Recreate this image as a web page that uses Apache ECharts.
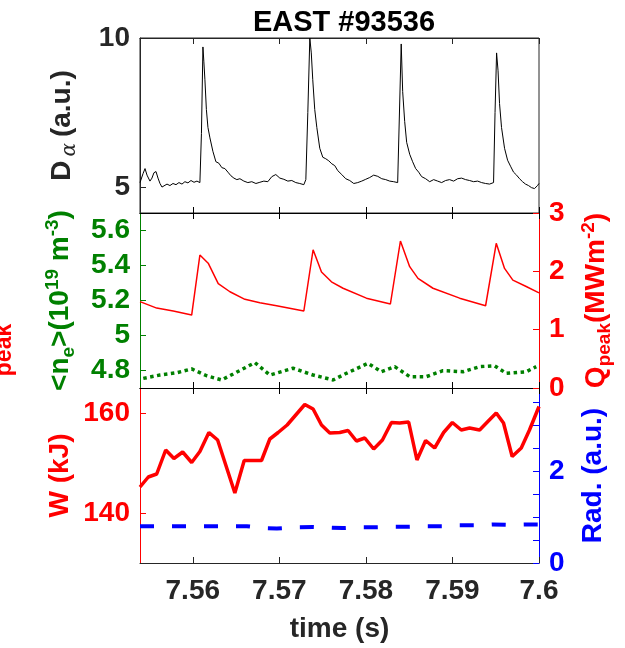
<!DOCTYPE html>
<html><head><meta charset="utf-8">
<script src="https://cdn.jsdelivr.net/npm/echarts@6/dist/echarts.min.js"></script>
<style>html,body{margin:0;padding:0;background:#fff}#c{width:625px;height:648px}</style>
</head><body><div id="c"></div>
<script>
// ---------- data ----------
const xTicks = [7.56, 7.57, 7.58, 7.59, 7.6];
const dLabels = [5, 10];
const neLabels = [4.8, 5, 5.2, 5.4, 5.6];
const wLabels = [140, 160];
const radLabels = [0, 2];
const radTicks = [0, 0.5, 1, 1.5, 2, 2.5, 3, 3.5];

const daTime = [7.55390,7.55425,7.55448,7.55471,7.55505,7.55528,7.55551,7.55575,7.55598,7.55621,
7.55644,7.55667,7.55702,7.55736,7.55771,7.55806,7.55840,7.55875,7.55909,7.55944,
7.55979,7.56014,7.56048,7.56082,7.56100,7.56117,7.56128,7.56140,7.56157,7.56175,
7.56198,7.56232,7.56267,7.56301,7.56336,7.56371,7.56406,7.56440,7.56475,7.56509,
7.56544,7.56590,7.56636,7.56682,7.56729,7.56775,7.56821,7.56867,7.56913,7.56959,
7.57006,7.57052,7.57098,7.57144,7.57190,7.57236,7.57283,7.57306,7.57329,7.57352,
7.57369,7.57386,7.57409,7.57433,7.57467,7.57502,7.57536,7.57571,7.57606,7.57640,
7.57675,7.57721,7.57767,7.57813,7.57860,7.57906,7.57952,7.57998,7.58044,7.58090,
7.58137,7.58183,7.58229,7.58275,7.58321,7.58367,7.58390,7.58408,7.58425,7.58448,
7.58471,7.58506,7.58540,7.58575,7.58610,7.58644,7.58690,7.58737,7.58783,7.58829,
7.58875,7.58921,7.58967,7.59014,7.59060,7.59106,7.59152,7.59198,7.59244,7.59291,
7.59337,7.59383,7.59429,7.59475,7.59492,7.59510,7.59527,7.59544,7.59567,7.59602,
7.59637,7.59671,7.59706,7.59741,7.59775,7.59810,7.59844,7.59879,7.59914,7.59948,
7.59983,7.60000];
const daValue = [5.15,5.45,5.62,5.40,5.20,5.30,5.48,5.52,5.30,5.12,
5.00,4.95,5.10,5.05,5.12,5.08,5.15,5.10,5.18,5.14,
5.22,5.16,5.20,5.15,6.8,9.7,9.2,8.6,7.6,7.0,
6.65,6.2,5.85,5.80,5.65,5.62,5.50,5.38,5.30,5.25,
5.28,5.20,5.15,5.18,5.12,5.16,5.20,5.18,5.35,5.42,
5.30,5.26,5.20,5.22,5.15,5.12,5.08,5.25,7.5,10.0,
9.5,8.6,7.6,7.0,6.3,6.0,5.95,5.88,5.78,5.72,
5.55,5.42,5.28,5.22,5.12,5.15,5.20,5.26,5.32,5.40,
5.36,5.28,5.25,5.20,5.18,5.15,5.20,9.8,8.2,7.2,
6.5,6.1,5.85,5.62,5.50,5.35,5.28,5.18,5.25,5.20,
5.15,5.22,5.25,5.20,5.28,5.30,5.25,5.22,5.18,5.20,
5.15,5.12,5.10,5.15,7.5,9.5,8.9,7.8,7.0,6.3,
5.90,5.70,5.50,5.40,5.28,5.18,5.10,5.05,4.98,4.95,
5.05,5.12];

const qTime = [7.55390,7.55583,7.55774,7.55987,7.56082,7.56178,7.56294,7.56429,7.56602,7.56775,7.56968,7.57283,
7.57390,7.57487,7.57602,7.57736,7.58006,7.58283,7.58399,7.58506,7.58602,7.58775,7.59083,7.59383,
7.59506,7.59602,7.59698,7.59852,7.60000];
const qValue = [1.48,1.37,1.32,1.25,2.28,2.14,1.79,1.65,1.52,1.46,1.41,1.32,
2.37,1.99,1.82,1.71,1.54,1.44,2.52,2.08,1.88,1.71,1.54,1.41,
2.48,2.05,1.85,1.74,1.63];

const neTime = [7.55428,7.55621,7.55814,7.55987,7.56160,7.56333,7.56467,7.56717,7.56890,7.57159,
7.57390,7.57621,7.57775,7.58025,7.58179,7.58333,7.58506,7.58698,7.58890,7.59121,
7.59314,7.59487,7.59622,7.59852,7.59968];
const neValue = [4.755,4.774,4.787,4.809,4.770,4.746,4.780,4.845,4.774,4.813,
4.774,4.746,4.784,4.841,4.793,4.822,4.765,4.765,4.799,4.793,
4.822,4.827,4.784,4.793,4.822];

const wTime = [7.55390,7.55486,7.55583,7.55687,7.55782,7.55883,7.55987,7.56082,7.56186,7.56287,
7.56486,7.56594,7.56794,7.56890,7.56986,7.57090,7.57294,7.57390,7.57487,7.57583,
7.57698,7.57794,7.57891,7.57987,7.58090,7.58191,7.58295,7.58390,7.58494,7.58590,
7.58690,7.58794,7.58898,7.58999,7.59102,7.59198,7.59314,7.59409,7.59506,7.59590,
7.59690,7.59795,7.59890,7.60000];
const wValue = [145.2,147.2,147.8,152.6,150.9,152.2,150.1,152.3,156.1,154.6,
144.0,150.5,150.5,154.8,156.1,157.6,161.7,160.8,157.6,156.0,
156.1,156.5,154.4,155.0,152.8,154.6,158.1,158.0,158.2,150.6,
154.5,153.0,156.1,158.1,156.6,157.0,156.6,158.3,160.0,158.0,
151.3,153.0,156.6,161.3];

const radTime = [7.55390,7.55852,7.56232,7.56625,7.56809,7.56971,7.57236,7.57386,7.57583,7.57733,
7.57963,7.58125,7.58333,7.58506,7.58702,7.58887,7.59083,7.59256,7.59464,7.59625,
7.59833,7.60000];
const radValue = [0.80,0.80,0.80,0.80,0.76,0.75,0.78,0.785,0.77,0.76,
0.78,0.78,0.79,0.79,0.80,0.80,0.82,0.82,0.84,0.83,
0.84,0.84];

// ---------- chart ----------
const zip = (a, b) => a.map((t, i) => [t, b[i]]);
const FF = 'Liberation Sans';
const FS = 28;
const DARK = '#262626';
const RED = '#ff0000', GREEN = '#008000', BLUE = '#0000ff';
const XMIN = 7.5539, XMAX = 7.6;

function rich(color) {
  return {
    m: {fontSize: FS, fontWeight: 'bold', fontFamily: FF, color: color},
    sb: {fontSize: 19, fontWeight: 'bold', fontFamily: FF, color: color, padding: [16, 0, 0, 0]},
    sp: {fontSize: 19, fontWeight: 'bold', fontFamily: FF, color: color, padding: [0, 0, 16, 0]},
    al: {fontSize: 20, fontStyle: 'italic', fontFamily: 'DejaVu Serif', color: color, padding: [16, 6, 0, 4]}
  };
}

function xAx(grid, pos, lineColor, opts) {
  return Object.assign({
    type: 'value', gridIndex: grid, position: pos, min: XMIN, max: XMAX,
    axisLine: {show: true, onZero: false, lineStyle: {color: lineColor, width: 1}},
    axisTick: {show: true, inside: true, length: 6, customValues: xTicks, lineStyle: {color: lineColor}},
    axisLabel: {show: false},
    splitLine: {show: false}
  }, opts || {});
}

function yAx(grid, pos, color, min, max, labels, ticks, opts) {
  return Object.assign({
    type: 'value', gridIndex: grid, position: pos, min: min, max: max,
    axisLine: {show: true, onZero: false, lineStyle: {color: color, width: 1}},
    axisTick: {show: true, inside: true, length: 6, customValues: ticks, lineStyle: {color: color}},
    axisLabel: {show: true, customValues: labels, color: color, fontSize: FS, fontWeight: 'bold', fontFamily: FF, margin: 10},
    splitLine: {show: false},
    nameLocation: 'middle', nameRotate: 90, nameMoveOverlap: false
  }, opts || {});
}

const chart = echarts.init(document.getElementById('c'), null, {renderer: 'canvas'});
chart.setOption({
  animation: false,
  backgroundColor: '#ffffff',
  title: {
    text: 'EAST #93536', left: 339, top: 3, textAlign: 'center',
    textStyle: {fontSize: 29, fontWeight: 'bold', fontFamily: FF, color: '#000'}
  },
  grid: [
    {left: 140, top: 38, width: 399, height: 175, show: true, borderColor: DARK, borderWidth: 1, backgroundColor: 'transparent', outerBoundsMode: 'none'},
    {left: 140, top: 213, width: 399, height: 175, outerBoundsMode: 'none'},
    {left: 140, top: 388, width: 399, height: 175, outerBoundsMode: 'none'}
  ],
  xAxis: [
    xAx(0, 'bottom', '#000'),
    xAx(0, 'top', DARK),
    xAx(1, 'bottom', '#000'),
    xAx(1, 'top', '#000'),
    xAx(2, 'bottom', DARK, {
      axisLabel: {show: true, customValues: xTicks, color: DARK, fontSize: FS, fontWeight: 'bold', fontFamily: FF, margin: 14},
      name: 'time (s)', nameLocation: 'middle', nameGap: 52,
      nameTextStyle: {fontSize: FS, fontWeight: 'bold', fontFamily: FF, color: DARK}
    }),
    xAx(2, 'top', '#000')
  ],
  yAxis: [
    yAx(0, 'left', DARK, 4.13, 10, dLabels, dLabels, {
      name: '{m|D}{al|α}{m|(a.u.)}', nameGap: 60,
      nameTextStyle: {rich: rich(DARK)}
    }),
    yAx(1, 'left', GREEN, 4.7, 5.7, neLabels, neLabels, {
      name: '{m|<n}{sb|e}{m|>(10}{sp|19}{m| m}{sp|-3}{m|)}', nameGap: 62,
      nameTextStyle: {rich: rich(GREEN)}
    }),
    yAx(1, 'right', RED, 0, 3, [0, 1, 2, 3], [0, 1, 2, 3], {
      name: '{m|Q}{sb|peak}{m|(MWm}{sp|-2}{m|)}', nameGap: 40,
      nameTextStyle: {rich: rich(RED)}
    }),
    yAx(2, 'left', RED, 130, 165, wLabels, wLabels, {
      name: 'W (kJ)', nameGap: 66,
      nameTextStyle: {fontSize: FS, fontWeight: 'bold', fontFamily: FF, color: RED}
    }),
    yAx(2, 'right', BLUE, 0, 3.81, radLabels, radTicks, {
      name: 'Rad. (a.u.)', nameGap: 40,
      nameTextStyle: {fontSize: FS, fontWeight: 'bold', fontFamily: FF, color: BLUE}
    })
  ],
  graphic: [
    {type: 'text', x: 16, y: 350, rotation: Math.PI / 2,
     style: {text: 'peak', fill: RED, font: 'bold 23px "Liberation Sans"', align: 'center', verticalAlign: 'bottom'}}
  ],
  series: [
    {type: 'line', name: 'Dalpha', xAxisIndex: 0, yAxisIndex: 0, data: zip(daTime, daValue),
     showSymbol: false, lineStyle: {color: '#000', width: 1}, clip: true},
    {type: 'line', name: 'Qpeak', xAxisIndex: 2, yAxisIndex: 2, data: zip(qTime, qValue),
     showSymbol: false, lineStyle: {color: RED, width: 1.5}},
    {type: 'line', name: 'ne', xAxisIndex: 2, yAxisIndex: 1, data: zip(neTime, neValue),
     showSymbol: false, lineStyle: {color: GREEN, width: 3.5, type: [3.5, 3.5]}},
    {type: 'line', name: 'W', xAxisIndex: 4, yAxisIndex: 3, data: zip(wTime, wValue),
     showSymbol: false, lineStyle: {color: RED, width: 3.5}},
    {type: 'line', name: 'Rad', xAxisIndex: 4, yAxisIndex: 4, data: zip(radTime, radValue),
     showSymbol: false, lineStyle: {color: BLUE, width: 4, type: [14, 18]}}
  ]
});
</script>
</body></html>
